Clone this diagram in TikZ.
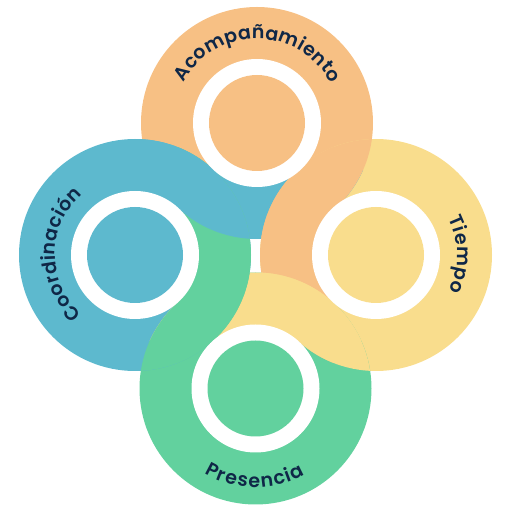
\documentclass[tikz,border=0pt]{standalone}
\usepackage{fontspec}
\newfontfamily\lblfont{Poppins SemiBold}
\usetikzlibrary{decorations.text}
\definecolor{cO}{HTML}{F7C084}
\definecolor{cY}{HTML}{F9DD8D}
\definecolor{cG}{HTML}{62D19E}
\definecolor{cB}{HTML}{5DB9CE}
\definecolor{txt}{HTML}{0F2747}
\begin{document}
\begin{tikzpicture}[x=1pt,y=1pt,
  lbl/.style={decorate, decoration={text along path, text align={fit to path}, text color=txt,
     text={|\lblfont\fontsize{19}{23}\selectfont|#1}}}]
\useasboundingbox (0,0) rectangle (512,512);
\coordinate (O) at (257,389);
\coordinate (Y) at (376,257);
\coordinate (G) at (255.5,123.5);
\coordinate (B) at (135,257);
% base disks
\foreach \c/\col in {O/cO,Y/cY,G/cG,B/cB} \fill[\col] (\c) circle (116);
% pockets
\begin{scope}\clip (O) circle (116); \fill[cB] (0,0) rectangle (512,342); \end{scope}
\begin{scope}\clip (Y) circle (116); \fill[cO] (0,0) rectangle (333,512); \end{scope}
\begin{scope}\clip (G) circle (116); \fill[cY] (0,170.5) rectangle (512,512); \end{scope}
\begin{scope}\clip (B) circle (116); \fill[cG] (178,0) rectangle (512,512); \end{scope}
% lenses
\begin{scope}\clip (B) circle (116); \fill[cB] (O) circle (116); \end{scope}
\begin{scope}\clip (O) circle (116); \fill[cO] (Y) circle (116); \end{scope}
\begin{scope}\clip (Y) circle (116); \fill[cY] (G) circle (116); \end{scope}
\begin{scope}\clip (G) circle (116); \fill[cG] (B) circle (116); \end{scope}
% white rings and inner disks
\foreach \c/\col in {O/cO,Y/cY,G/cG,B/cB} {
  \fill[white] (\c) circle (64);
  \fill[\col] (\c) circle (48);
}
% labels
\path[lbl={Acompañamiento}] (O) ++(151:84) arc[start angle=151, end angle=28, radius=84];
\path[lbl={Tiempo}] (Y) ++(27:81) arc[start angle=27, end angle=-26, radius=81];
\path[lbl={Presencia}] (G) ++(239:99) arc[start angle=239, end angle=300, radius=99];
\path[lbl={Coordinación}] (B) ++(228:80) arc[start angle=228, end angle=131, radius=80];
\end{tikzpicture}
\end{document}
